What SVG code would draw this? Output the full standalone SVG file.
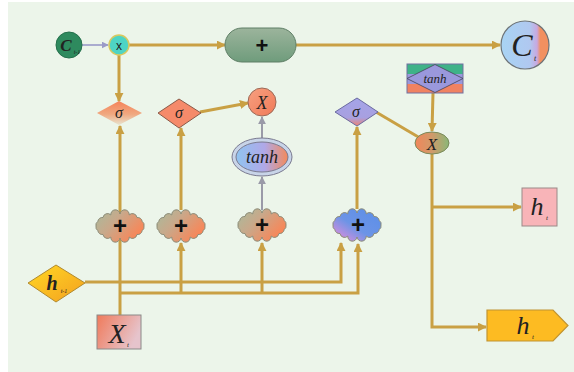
<svg xmlns="http://www.w3.org/2000/svg" width="574" height="372" viewBox="0 0 574 372">
<style>
.ln{fill:none;stroke:#c9a044;stroke-width:3}
.gl{fill:none;stroke:#9a9aa8;stroke-width:2}
.it{font-family:"Liberation Serif",serif;font-style:italic;fill:#222;text-anchor:middle}
.pl{font-family:"Liberation Sans",sans-serif;font-weight:bold;fill:#111;text-anchor:middle}
.cl{stroke:#8c8c78;stroke-width:1}
</style>
<defs>
<marker id="ag" viewBox="0 0 10 10" refX="9" refY="5" markerWidth="9" markerHeight="9" markerUnits="userSpaceOnUse" orient="auto"><path d="M0,0L10,5L0,10Z" fill="#c9a044"/></marker>
<marker id="agr" viewBox="0 0 10 10" refX="9" refY="5" markerWidth="8" markerHeight="8" markerUnits="userSpaceOnUse" orient="auto"><path d="M0,0L10,5L0,10Z" fill="#9a9aa8"/></marker>
<marker id="ap" viewBox="0 0 10 10" refX="9" refY="5" markerWidth="7" markerHeight="7" markerUnits="userSpaceOnUse" orient="auto"><path d="M0,0L10,5L0,10Z" fill="#9a9ac8"/></marker>
<path id="cloud" d="M24,0 A4.6,4.6 0 0 1 22.2,4.6 A4.6,4.6 0 0 1 17,8.5 A4.6,4.6 0 0 1 9.2,11.1 A4.6,4.6 0 0 1 0,12 A4.6,4.6 0 0 1 -9.2,11.1 A4.6,4.6 0 0 1 -17,8.5 A4.6,4.6 0 0 1 -22.2,4.6 A4.6,4.6 0 0 1 -24,0 A4.6,4.6 0 0 1 -22.2,-4.6 A4.6,4.6 0 0 1 -17,-8.5 A4.6,4.6 0 0 1 -9.2,-11.1 A4.6,4.6 0 0 1 0,-12 A4.6,4.6 0 0 1 9.2,-11.1 A4.6,4.6 0 0 1 17,-8.5 A4.6,4.6 0 0 1 22.2,-4.6 A4.6,4.6 0 0 1 24,0 Z"/>
<linearGradient id="gCloud" x1="0" y1="0" x2="1" y2="0.6"><stop offset="0" stop-color="#a9bb9c"/><stop offset="0.45" stop-color="#c9a88a"/><stop offset="1" stop-color="#fa8556"/></linearGradient>
<linearGradient id="gCloudB" x1="0" y1="1" x2="1" y2="0"><stop offset="0" stop-color="#e0707a"/><stop offset="0.2" stop-color="#b890e0"/><stop offset="0.45" stop-color="#6c94e6"/><stop offset="1" stop-color="#5a8ee8"/></linearGradient>
<linearGradient id="gPill" x1="0" y1="0" x2="0" y2="1"><stop offset="0" stop-color="#9cb49c"/><stop offset="1" stop-color="#6f9c7c"/></linearGradient>
<linearGradient id="gCt" x1="0" y1="0" x2="1" y2="0"><stop offset="0" stop-color="#a8d4f4"/><stop offset="0.6" stop-color="#b0c8f0"/><stop offset="0.75" stop-color="#c8a8e0"/><stop offset="0.82" stop-color="#f29060"/><stop offset="1" stop-color="#f29060"/></linearGradient>
<linearGradient id="gS1" x1="0" y1="0" x2="0" y2="1"><stop offset="0" stop-color="#f5835a"/><stop offset="0.55" stop-color="#f0a880"/><stop offset="1" stop-color="#e8e4d0"/></linearGradient>
<linearGradient id="gS3" x1="0" y1="0" x2="0" y2="1"><stop offset="0" stop-color="#a4a4e8"/><stop offset="0.7" stop-color="#a8a0e0"/><stop offset="1" stop-color="#f08070"/></linearGradient>
<linearGradient id="gTanhE" x1="0" y1="0" x2="1" y2="0"><stop offset="0" stop-color="#90c4f0"/><stop offset="0.55" stop-color="#b0a8e8"/><stop offset="1" stop-color="#f48a5a"/></linearGradient>
<linearGradient id="gXe" x1="0" y1="0" x2="1" y2="0"><stop offset="0" stop-color="#f2865a"/><stop offset="0.5" stop-color="#d09a6a"/><stop offset="1" stop-color="#8ab878"/></linearGradient>
<linearGradient id="gXc" x1="0" y1="0" x2="1" y2="1"><stop offset="0" stop-color="#f7a080"/><stop offset="1" stop-color="#f07a58"/></linearGradient>
<linearGradient id="gXt" x1="0" y1="0" x2="1" y2="0.4"><stop offset="0" stop-color="#f07a5a"/><stop offset="1" stop-color="#e6c4cc"/></linearGradient>
<linearGradient id="gH" x1="0" y1="0" x2="1" y2="1"><stop offset="0" stop-color="#ffd824"/><stop offset="1" stop-color="#f4a020"/></linearGradient>
</defs>
<rect x="0" y="0" width="574" height="372" fill="#ffffff"/>
<rect x="8" y="2" width="566" height="370" fill="#ecf5ea"/>

<g id="connectors">
<line x1="82" y1="45" x2="108" y2="45" stroke="#9a9ac8" stroke-width="1.6" marker-end="url(#ap)"/>
<line class="ln" x1="129" y1="45" x2="225" y2="45" marker-end="url(#ag)"/>
<line class="ln" x1="296" y1="45" x2="500" y2="45" marker-end="url(#ag)"/>
<line class="ln" x1="119" y1="55" x2="119" y2="101" marker-end="url(#ag)"/>
<line class="ln" x1="120" y1="315" x2="120" y2="126" marker-end="url(#ag)"/>
<line class="ln" x1="181" y1="210" x2="181" y2="128" marker-end="url(#ag)"/>
<line class="ln" x1="200" y1="112" x2="248" y2="103" marker-end="url(#ag)"/>
<line class="gl" x1="262" y1="138" x2="262" y2="117" marker-end="url(#agr)"/>
<line class="gl" x1="262" y1="210" x2="262" y2="177" marker-end="url(#agr)"/>
<line class="ln" x1="357" y1="209" x2="357" y2="127" marker-end="url(#ag)"/>
<line class="ln" x1="376" y1="112" x2="420" y2="138"/>
<line class="ln" x1="433" y1="93" x2="432" y2="131" marker-end="url(#ag)"/>
<path class="ln" d="M432,154 V327 H486" marker-end="url(#ag)"/>
<path class="ln" d="M432,207 H521" marker-end="url(#ag)"/>
<path class="ln" d="M85,282 H341 V243" marker-end="url(#ag)"/>
<path class="ln" d="M120,293 H358 V244" marker-end="url(#ag)"/>
<path class="ln" d="M181,293 V243" marker-end="url(#ag)"/>
<path class="ln" d="M262,293 V243" marker-end="url(#ag)"/>
</g>

<g id="c_prev">
<circle cx="69" cy="45" r="13" fill="#2e8a5e" stroke="#25704c" stroke-width="1"/>
<text class="it" x="66" y="51" font-size="17" font-weight="bold" fill="#1a1a1a">C</text>
<text class="it" x="77" y="54" font-size="6">t-1</text>
</g>
<g id="mult_x">
<circle cx="119" cy="45" r="10" fill="#4ed4c4" stroke="#d8c860" stroke-width="1.5"/>
<text x="119" y="49.5" font-family="Liberation Sans,sans-serif" font-size="12" fill="#222" text-anchor="middle">x</text>
</g>
<g id="plus_pill">
<rect x="225" y="28" width="71" height="34" rx="17" fill="url(#gPill)" stroke="#5f7f66" stroke-width="1"/>
<text class="pl" x="262" y="53" font-size="22">+</text>
</g>
<g id="c_t">
<circle cx="525" cy="45" r="24" fill="url(#gCt)" stroke="#6e7478" stroke-width="1.2"/>
<text class="it" x="522" y="56" font-size="32">C</text>
<text class="it" x="535" y="61" font-size="8">t</text>
</g>
<g id="tanh_rect">
<rect x="407" y="64" width="56" height="10" fill="#3eb288"/>
<rect x="407" y="74" width="56" height="10" fill="#9a98dc"/>
<rect x="407" y="84" width="56" height="9" fill="#f08262"/>
<rect x="407" y="64" width="56" height="29" fill="none" stroke="#7070a0" stroke-width="1"/>
<polygon points="407,78.5 435,64.5 463,78.5 435,92.5" fill="#9a98dc" stroke="#445" stroke-width="0.8"/>
<text class="it" x="435" y="83" font-size="13" fill="#223">tanh</text>
</g>
<g id="sigma3">
<polygon points="335,112 357,98 378,112 357,126" fill="url(#gS3)" stroke="#6a6aa0" stroke-width="1"/>
<text class="it" x="356" y="117" font-size="16">σ</text>
</g>
<g id="mult_X2">
<ellipse cx="432" cy="143" rx="17" ry="11" fill="url(#gXe)" stroke="#7a8a5a" stroke-width="1"/>
<text class="it" x="432" y="149.5" font-size="17">X</text>
</g>
<g id="sigma1">
<polygon points="97,113 119,101 142,113 119,125" fill="url(#gS1)"/>
<text class="it" x="119" y="118" font-size="16">σ</text>
</g>
<g id="sigma2">
<polygon points="158,113 179,99 201,113 179,128" fill="#f58a6a" stroke="#8a5a48" stroke-width="1"/>
<text class="it" x="179" y="118" font-size="16">σ</text>
</g>
<g id="mult_X1">
<circle cx="262" cy="102" r="14" fill="url(#gXc)" stroke="#9a6a58" stroke-width="1"/>
<text class="it" x="262" y="108.5" font-size="18">X</text>
</g>
<g id="tanh_ellipse">
<ellipse cx="262" cy="157" rx="30" ry="19" fill="#c8d4e8" stroke="#7a7a90" stroke-width="1"/>
<ellipse cx="262" cy="157" rx="26" ry="15" fill="url(#gTanhE)" stroke="#7a7a90" stroke-width="1"/>
<text class="it" x="262" y="163" font-size="18">tanh</text>
</g>
<g id="cloud1">
<use href="#cloud" x="120" y="226" fill="url(#gCloud)" class="cl"/>
<text class="pl" x="120" y="234" font-size="24">+</text>
</g>
<g id="cloud2">
<use href="#cloud" x="181" y="226" fill="url(#gCloud)" class="cl"/>
<text class="pl" x="181" y="234" font-size="24">+</text>
</g>
<g id="cloud3">
<use href="#cloud" x="262" y="225" fill="url(#gCloud)" class="cl"/>
<text class="pl" x="262" y="233" font-size="24">+</text>
</g>
<g id="cloud4">
<use href="#cloud" x="357" y="225" fill="url(#gCloudB)" class="cl"/>
<text class="pl" x="358" y="233" font-size="24">+</text>
</g>
<g id="h_prev">
<polygon points="28,283 56,265 85,283 56,302" fill="url(#gH)" stroke="#b08a30" stroke-width="1"/>
<text class="it" x="52" y="290" font-size="20" font-weight="bold">h</text>
<text class="it" x="64" y="293" font-size="6">t-1</text>
</g>
<g id="x_t">
<rect x="97" y="315" width="44" height="34" fill="url(#gXt)" stroke="#8a8a88" stroke-width="1"/>
<text class="it" x="117" y="343" font-size="28">X</text>
<text class="it" x="128" y="347" font-size="7">t</text>
</g>
<g id="h_t_box">
<rect x="522" y="188" width="35" height="38" fill="#f8b4b8" stroke="#9a8a88" stroke-width="1"/>
<text class="it" x="537" y="215" font-size="26">h</text>
<text class="it" x="547" y="220" font-size="7">t</text>
</g>
<g id="h_t_out">
<polygon points="487,310 553,310 568,325.5 553,341 487,341" fill="#fdbb22" stroke="#c09432" stroke-width="1.2"/>
<text class="it" x="523" y="334" font-size="26">h</text>
<text class="it" x="533" y="339" font-size="7">t</text>
</g>
</svg>
